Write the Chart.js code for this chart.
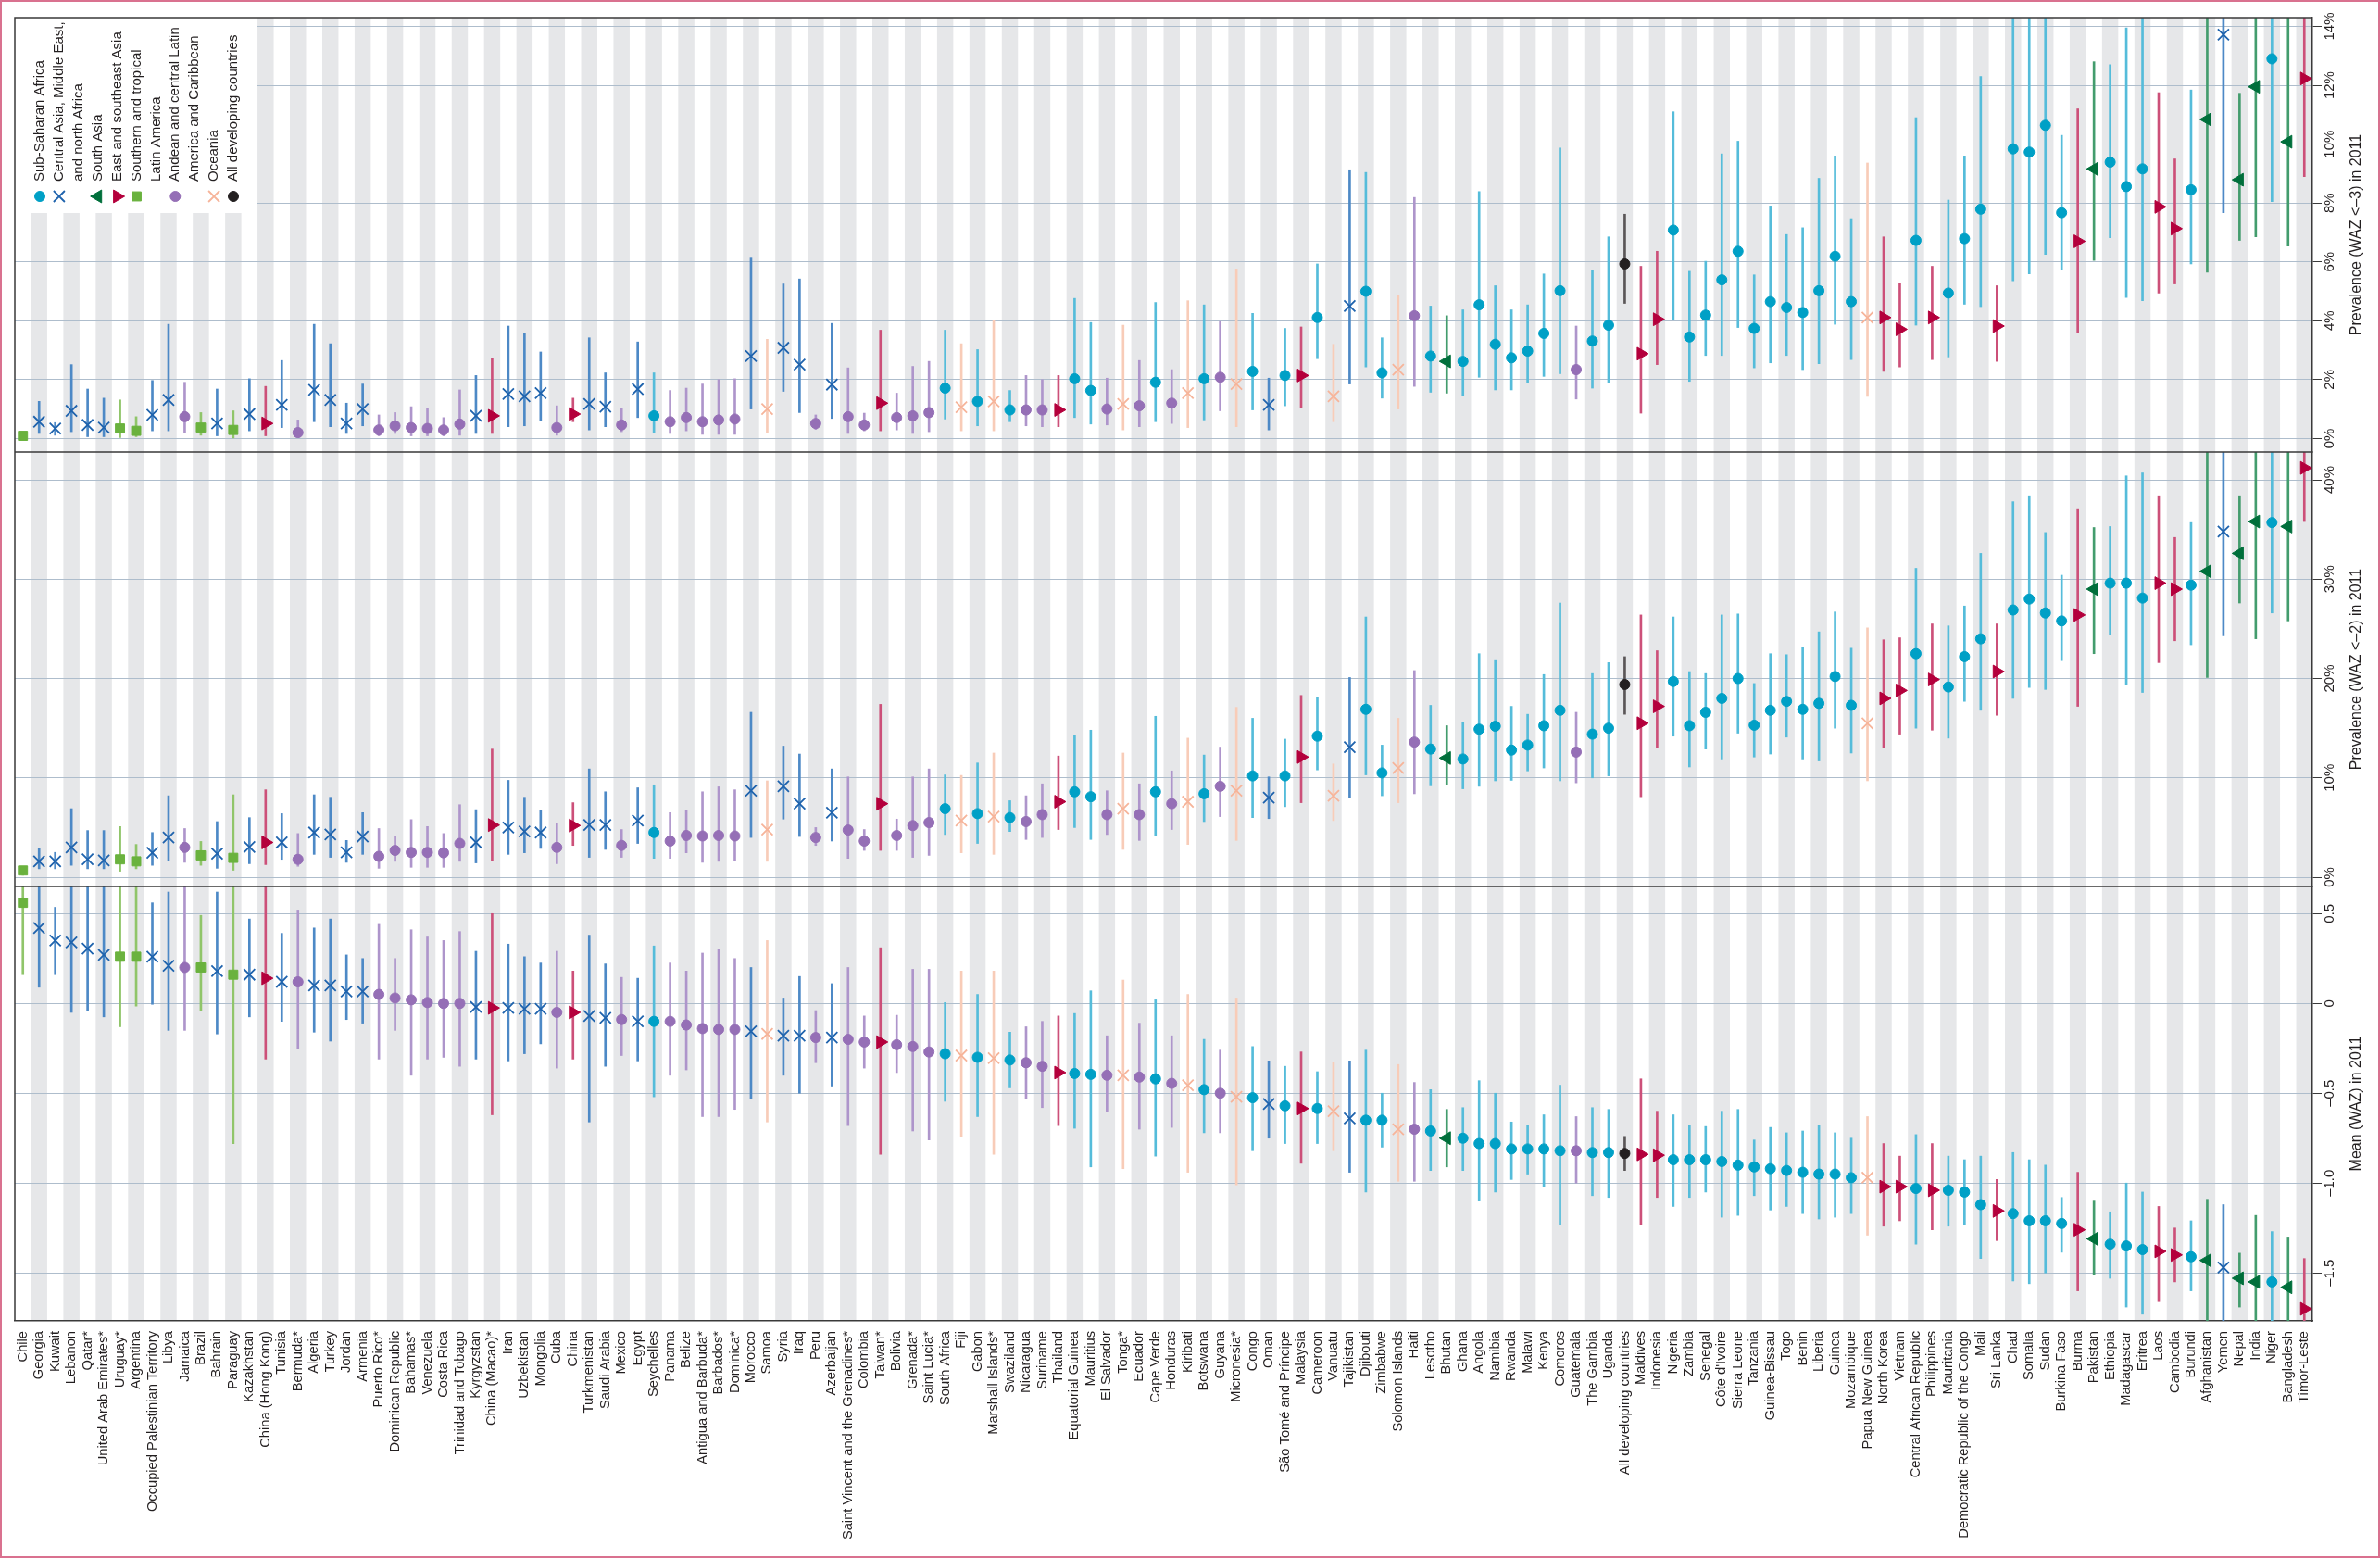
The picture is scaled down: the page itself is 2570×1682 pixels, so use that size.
<!DOCTYPE html>
<html>
<head>
<meta charset="utf-8">
<script src="https://cdn.jsdelivr.net/npm/chart.js@4.4.0/dist/chart.umd.min.js"></script>
<style>
  html, body { margin: 0; padding: 0; background: #fff; }
  #wrap { width: 2570px; height: 1682px; box-sizing: border-box; border: 2px solid #d9718f; background: #fff; }
  canvas { display: block; }
</style>
</head>
<body>
<div id="wrap"><canvas id="chart" width="2566" height="1678"></canvas></div>
<script>
const countries = ["Chile", "Georgia", "Kuwait", "Lebanon", "Qatar*", "United Arab Emirates*", "Uruguay*", "Argentina",
  "Occupied Palestinian Territory", "Libya", "Jamaica", "Brazil", "Bahrain", "Paraguay", "Kazakhstan", "China (Hong Kong)",
  "Tunisia", "Bermuda*", "Algeria", "Turkey", "Jordan", "Armenia", "Puerto Rico*", "Dominican Republic", "Bahamas*",
  "Venezuela", "Costa Rica", "Trinidad and Tobago", "Kyrgyzstan", "China (Macao)*", "Iran", "Uzbekistan", "Mongolia",
  "Cuba", "China", "Turkmenistan", "Saudi Arabia", "Mexico", "Egypt", "Seychelles", "Panama", "Belize",
  "Antigua and Barbuda*", "Barbados*", "Dominica*", "Morocco", "Samoa", "Syria", "Iraq", "Peru", "Azerbaijan",
  "Saint Vincent and the Grenadines*", "Colombia", "Taiwan*", "Bolivia", "Grenada*", "Saint Lucia*", "South Africa",
  "Fiji", "Gabon", "Marshall Islands*", "Swaziland", "Nicaragua", "Suriname", "Thailand", "Equatorial Guinea",
  "Mauritius", "El Salvador", "Tonga*", "Ecuador", "Cape Verde", "Honduras", "Kiribati", "Botswana", "Guyana",
  "Micronesia*", "Congo", "Oman", "São Tomé and Príncipe", "Malaysia", "Cameroon", "Vanuatu", "Tajikistan", "Djibouti",
  "Zimbabwe", "Solomon Islands", "Haiti", "Lesotho", "Bhutan", "Ghana", "Angola", "Namibia", "Rwanda", "Malawi", "Kenya",
  "Comoros", "Guatemala", "The Gambia", "Uganda", "All developing countries", "Maldives", "Indonesia", "Nigeria",
  "Zambia", "Senegal", "Côte d'Ivoire", "Sierra Leone", "Tanzania", "Guinea-Bissau", "Togo", "Benin", "Liberia",
  "Guinea", "Mozambique", "Papua New Guinea", "North Korea", "Vietnam", "Central African Republic", "Philippines",
  "Mauritania", "Democratic Republic of the Congo", "Mali", "Sri Lanka", "Chad", "Somalia", "Sudan", "Burkina Faso",
  "Burma", "Pakistan", "Ethiopia", "Madagascar", "Eritrea", "Laos", "Cambodia", "Burundi", "Afghanistan", "Yemen",
  "Nepal", "India", "Niger", "Bangladesh", "Timor-Leste"];

// 0 sub-Saharan Africa, 1 central Asia/Middle East/north Africa, 2 south Asia, 3 east and southeast Asia,
// 4 southern and tropical Latin America, 5 Andean/central Latin America and Caribbean, 6 Oceania, 7 all developing
const region = [4, 1, 1, 1, 1, 1, 4, 4, 1, 1, 5, 4, 1, 4, 1, 3, 1, 5, 1, 1, 1, 1, 5, 5, 5, 5, 5, 5, 1, 3,
  1, 1, 1, 5, 3, 1, 1, 5, 1, 0, 5, 5, 5, 5, 5, 1, 6, 1, 1, 5, 1, 5, 5, 3, 5, 5, 5, 0, 6, 0,
  6, 0, 5, 5, 3, 0, 0, 5, 6, 5, 0, 5, 6, 0, 5, 6, 0, 1, 0, 3, 0, 6, 1, 0, 0, 6, 5, 0, 2, 0,
  0, 0, 0, 0, 0, 0, 5, 0, 0, 7, 3, 3, 0, 0, 0, 0, 0, 0, 0, 0, 0, 0, 0, 0, 6, 3, 3, 0, 3, 0,
  0, 0, 3, 0, 0, 0, 0, 3, 2, 0, 0, 0, 3, 3, 0, 2, 1, 2, 2, 0, 2, 3];

// prevalence WAZ < -3 (%)
const severe = [0.09, 0.57, 0.34, 0.94, 0.46, 0.37, 0.34, 0.26, 0.8, 1.31, 0.74, 0.37, 0.51, 0.29, 0.83, 0.51,
  1.14, 0.2, 1.65, 1.31, 0.51, 1.0, 0.29, 0.43, 0.37, 0.34, 0.29, 0.49, 0.77, 0.77, 1.51, 1.43, 1.54, 0.37, 0.83,
  1.17, 1.08, 0.46, 1.68, 0.77, 0.57, 0.71, 0.57, 0.63, 0.66, 2.8, 1.0, 3.08, 2.51, 0.51, 1.83, 0.74, 0.46, 1.2,
  0.71, 0.77, 0.88, 1.71, 1.06, 1.26, 1.26, 0.97, 0.97, 0.97, 0.97, 2.03, 1.63, 1.0, 1.17, 1.11, 1.91, 1.2, 1.54,
  2.03, 2.08, 1.85, 2.28, 1.14, 2.14, 2.14, 4.11, 1.43, 4.5, 5.0, 2.23, 2.34, 4.17, 2.8, 2.62, 2.62, 4.54, 3.2,
  2.74, 2.97, 3.57, 5.02, 2.34, 3.31, 3.85, 5.93, 2.88, 4.05, 7.08, 3.45, 4.19, 5.39, 6.36, 3.74, 4.65, 4.45, 4.28,
  5.02, 6.19, 4.65, 4.11, 4.11, 3.71, 6.73, 4.11, 4.94, 6.79, 7.79, 3.82, 9.84, 9.73, 10.64, 7.67, 6.7, 9.16, 9.39,
  8.56, 9.16, 7.87, 7.13, 8.45, 10.84, 13.72, 8.79, 11.95, 12.9, 10.08, 12.23];
const severeLo = [0.0, 0.17, 0.11, 0.23, 0.06, 0.06, 0.03, 0.06, 0.26, 0.26, 0.2, 0.11, 0.09, 0.0, 0.26, 0.09,
  0.37, 0.03, 0.57, 0.4, 0.17, 0.43, 0.09, 0.17, 0.09, 0.09, 0.09, 0.11, 0.17, 0.17, 0.4, 0.43, 0.6, 0.11, 0.57,
  0.29, 0.4, 0.23, 0.71, 0.2, 0.17, 0.26, 0.14, 0.14, 0.14, 1.0, 0.2, 1.6, 0.88, 0.31, 0.68, 0.17, 0.26, 0.26,
  0.29, 0.17, 0.23, 0.66, 0.26, 0.43, 0.26, 0.57, 0.43, 0.4, 0.4, 0.71, 0.49, 0.46, 0.29, 0.4, 0.57, 0.51, 0.37,
  0.63, 0.94, 0.4, 0.97, 0.29, 1.11, 1.03, 2.71, 0.57, 1.85, 2.43, 1.37, 1.0, 1.77, 1.57, 1.54, 1.46, 2.08, 1.65,
  1.65, 1.91, 2.11, 2.2, 1.34, 1.71, 1.91, 4.59, 0.86, 2.51, 4.02, 1.94, 2.82, 2.82, 3.77, 2.4, 2.57, 2.82, 2.34,
  2.54, 3.88, 2.68, 1.43, 2.28, 2.43, 3.85, 2.68, 2.77, 4.56, 4.48, 2.62, 5.36, 5.59, 6.25, 5.73, 3.6, 6.05, 6.82,
  4.79, 4.68, 4.94, 5.25, 5.93, 5.65, 7.67, 6.73, 6.85, 8.05, 6.54, 8.9];
const severeHi = [0.2, 1.26, 0.54, 2.51, 1.68, 1.37, 1.31, 0.74, 1.97, 3.88, 1.91, 0.88, 1.68, 0.94, 2.03, 1.77,
  2.65, 0.63, 3.88, 3.22, 1.2, 1.85, 0.8, 0.88, 1.08, 1.03, 0.71, 1.65, 2.14, 2.71, 3.82, 3.57, 2.94, 1.11, 1.37,
  3.42, 2.23, 1.03, 3.28, 2.23, 1.63, 1.71, 1.85, 2.0, 2.03, 6.16, 3.37, 5.25, 5.42, 0.8, 3.91, 2.4, 0.86, 3.68,
  1.54, 2.45, 2.62, 3.68, 3.22, 3.02, 4.0, 1.63, 2.14, 2.0, 2.14, 4.76, 3.94, 2.05, 3.85, 2.65, 4.62, 2.34, 4.68,
  4.54, 3.97, 5.76, 4.25, 2.05, 3.74, 3.79, 5.93, 3.2, 9.13, 9.04, 3.42, 4.85, 8.19, 4.5, 4.17, 4.37, 8.39, 5.19,
  4.37, 4.54, 5.59, 9.87, 3.82, 5.7, 6.85, 7.62, 5.85, 6.36, 11.1, 5.68, 6.02, 9.67, 10.1, 5.56, 7.9, 6.93, 7.16,
  8.84, 9.6, 7.47, 9.36, 6.85, 5.28, 10.9, 5.85, 8.1, 9.6, 12.3, 5.19, 15.5, 15.5, 15.5, 10.3, 11.2, 12.8, 12.7,
  13.95, 15.5, 11.75, 9.5, 11.84, 16, 20, 11.73, 18, 19, 16, 17];

// prevalence WAZ < -2 (%)
const moderate = [0.68, 1.6, 1.6, 3.0, 1.8, 1.7, 1.8, 1.6, 2.46, 4.0, 3.0, 2.2, 2.37, 1.95, 3.05, 3.5, 3.5, 1.8,
  4.5, 4.3, 2.5, 4.1, 2.1, 2.7, 2.5, 2.5, 2.46, 3.4, 3.5, 5.25, 5.0, 4.6, 4.5, 3.0, 5.2, 5.25, 5.25, 3.2, 5.7, 4.5,
  3.64, 4.2, 4.15, 4.2, 4.15, 8.7, 4.8, 9.15, 7.4, 4.0, 6.5, 4.75, 3.64, 7.4, 4.2, 5.2, 5.5, 6.9, 5.7, 6.4, 6.1,
  6.0, 5.6, 6.3, 7.6, 8.6, 8.1, 6.3, 6.9, 6.3, 8.6, 7.4, 7.6, 8.4, 9.15, 8.7, 10.2, 8.0, 10.2, 12.1, 14.2, 8.2,
  13.1, 16.9, 10.5, 11.0, 13.6, 12.9, 12.0, 11.9, 14.9, 15.2, 12.8, 13.3, 15.25, 16.8, 12.6, 14.4, 15.0, 19.4,
  15.5, 17.2, 19.7, 15.25, 16.6, 18.0, 20.0, 15.3, 16.8, 17.7, 16.9, 17.5, 20.2, 17.3, 15.5, 18.0, 18.8, 22.5,
  19.9, 19.15, 22.2, 24.0, 20.7, 26.9, 28.0, 26.6, 25.8, 26.4, 29.0, 29.6, 29.6, 28.1, 29.6, 29.0, 29.4, 30.8,
  34.8, 32.6, 35.8, 35.7, 35.3, 41.2];
const moderateLo = [0.2, 0.85, 0.85, 1.2, 0.85, 0.85, 0.6, 0.85, 1.2, 1.7, 1.5, 1.2, 0.9, 0.7, 1.36, 1.27, 1.8,
  1.1, 2.3, 2.0, 1.5, 2.3, 0.9, 1.6, 1.0, 1.0, 1.0, 1.6, 1.44, 1.7, 2.3, 2.46, 2.9, 1.36, 3.2, 2.0, 2.8, 2.0, 3.4,
  1.9, 1.9, 2.46, 1.5, 1.6, 1.7, 4.0, 1.6, 5.85, 4.1, 3.2, 3.64, 1.9, 2.7, 2.7, 2.7, 2.0, 2.2, 4.3, 2.46, 3.4, 2.3,
  4.6, 3.8, 4.0, 4.8, 5.0, 3.8, 4.3, 2.8, 3.7, 4.15, 4.8, 3.3, 5.6, 6.1, 3.7, 6.0, 5.9, 7.1, 7.5, 10.8, 5.7, 8.0,
  10.3, 8.2, 7.5, 8.4, 9.2, 9.3, 8.9, 9.15, 9.7, 9.75, 10.7, 11.0, 9.7, 9.5, 10.0, 10.2, 16.4, 8.1, 13.0, 14.2,
  11.1, 12.9, 11.9, 14.5, 12.1, 12.4, 14.1, 11.9, 11.7, 15.0, 12.5, 9.7, 13.05, 14.4, 15.0, 14.8, 14.0, 17.7,
  16.8, 16.3, 18.0, 19.1, 18.9, 21.8, 17.2, 22.5, 24.4, 19.4, 18.6, 21.6, 23.8, 23.4, 20.1, 24.3, 27.6, 24.0,
  26.6, 25.8, 35.8];
const moderateHi = [1.0, 2.9, 2.5, 6.9, 4.7, 4.7, 5.1, 3.3, 4.5, 8.2, 4.9, 3.6, 5.6, 8.3, 6.0, 8.8, 6.4, 4.4, 8.3,
  8.05, 3.7, 6.5, 4.9, 4.15, 5.8, 5.1, 4.4, 7.3, 6.8, 12.9, 9.75, 8.05, 6.7, 5.4, 7.5, 10.9, 8.6, 4.8, 9.0, 9.3,
  6.5, 6.7, 8.6, 9.1, 8.8, 16.6, 9.7, 13.2, 12.4, 5.0, 10.9, 10.1, 4.8, 17.4, 5.85, 10.1, 10.9, 10.3, 10.25, 11.5,
  12.5, 7.7, 8.2, 9.4, 12.2, 14.3, 14.8, 8.7, 12.5, 9.4, 16.2, 10.7, 14.0, 12.3, 13.1, 17.1, 16.0, 10.1, 13.9,
  18.3, 18.1, 11.4, 20.1, 26.2, 13.3, 16.0, 20.8, 17.3, 15.25, 15.6, 22.5, 21.9, 17.2, 16.4, 20.4, 27.6, 16.6,
  20.5, 21.6, 22.2, 26.4, 22.8, 26.2, 20.7, 20.5, 26.4, 26.5, 19.5, 22.5, 22.4, 23.1, 24.7, 26.7, 23.05, 25.1,
  23.9, 24.1, 31.1, 25.5, 25.3, 27.3, 32.6, 25.5, 37.8, 38.4, 34.7, 30.4, 37.1, 35.2, 35.3, 40.4, 40.7, 38.4,
  34.2, 35.7, 44, 46, 38.4, 46, 45, 45, 47];

// mean WAZ
const mean = [0.56, 0.42, 0.35, 0.34, 0.305, 0.27, 0.26, 0.26, 0.26, 0.21, 0.2, 0.2, 0.18, 0.16, 0.16, 0.14, 0.12,
  0.12, 0.1, 0.1, 0.066, 0.066, 0.05, 0.03, 0.02, 0.005, 0.0, 0.0, -0.02, -0.025, -0.025, -0.03, -0.03, -0.05,
  -0.05, -0.07, -0.08, -0.09, -0.1, -0.1, -0.1, -0.12, -0.14, -0.145, -0.145, -0.155, -0.17, -0.18, -0.18, -0.19,
  -0.19, -0.2, -0.215, -0.215, -0.23, -0.24, -0.27, -0.28, -0.29, -0.3, -0.305, -0.315, -0.33, -0.35, -0.385,
  -0.39, -0.395, -0.4, -0.4, -0.41, -0.42, -0.445, -0.455, -0.48, -0.5, -0.52, -0.525, -0.56, -0.57, -0.585,
  -0.585, -0.6, -0.64, -0.65, -0.65, -0.7, -0.7, -0.71, -0.75, -0.75, -0.78, -0.78, -0.81, -0.81, -0.81, -0.82,
  -0.82, -0.83, -0.83, -0.835, -0.84, -0.845, -0.87, -0.87, -0.87, -0.88, -0.9, -0.91, -0.92, -0.93, -0.94, -0.95,
  -0.95, -0.97, -0.97, -1.02, -1.02, -1.03, -1.04, -1.04, -1.05, -1.12, -1.155, -1.17, -1.21, -1.21, -1.225, -1.26,
  -1.31, -1.34, -1.35, -1.37, -1.38, -1.4, -1.41, -1.43, -1.47, -1.53, -1.55, -1.55, -1.58, -1.7];
const meanLo = [0.16, 0.09, 0.16, -0.05, -0.04, -0.075, -0.13, -0.015, -0.005, -0.15, -0.15, -0.04, -0.17, -0.78,
  -0.075, -0.31, -0.1, -0.25, -0.16, -0.21, -0.09, -0.11, -0.31, -0.15, -0.4, -0.31, -0.3, -0.35, -0.31, -0.62,
  -0.32, -0.28, -0.225, -0.36, -0.31, -0.66, -0.35, -0.29, -0.32, -0.52, -0.4, -0.37, -0.63, -0.63, -0.59, -0.53,
  -0.66, -0.4, -0.5, -0.33, -0.46, -0.68, -0.36, -0.84, -0.385, -0.71, -0.76, -0.545, -0.74, -0.63, -0.84, -0.47,
  -0.53, -0.58, -0.68, -0.695, -0.91, -0.6, -0.92, -0.7, -0.85, -0.69, -0.94, -0.72, -0.72, -1.01, -0.82, -0.75,
  -0.78, -0.89, -0.78, -0.82, -0.94, -1.05, -0.8, -0.99, -0.99, -0.93, -0.91, -0.93, -1.1, -1.05, -0.98, -0.95,
  -1.02, -1.23, -1.0, -1.07, -1.08, -0.93, -1.23, -1.08, -1.13, -1.08, -1.05, -1.19, -1.18, -1.07, -1.15, -1.13,
  -1.17, -1.2, -1.19, -1.17, -1.29, -1.24, -1.21, -1.34, -1.26, -1.24, -1.23, -1.42, -1.32, -1.545, -1.56, -1.5,
  -1.385, -1.6, -1.51, -1.53, -1.69, -1.73, -1.66, -1.55, -1.6, -1.85, -1.85, -1.69, -1.85, -1.85, -1.85, -1.85];
const meanHi = [0.7, 0.7, 0.535, 0.7, 0.7, 0.7, 0.7, 0.7, 0.56, 0.62, 0.7, 0.49, 0.62, 0.7, 0.47, 0.7, 0.39, 0.52,
  0.42, 0.47, 0.27, 0.25, 0.44, 0.25, 0.41, 0.37, 0.35, 0.4, 0.29, 0.5, 0.33, 0.26, 0.225, 0.29, 0.18, 0.38, 0.22,
  0.145, 0.14, 0.32, 0.225, 0.18, 0.28, 0.3, 0.25, 0.2, 0.35, 0.03, 0.15, -0.04, 0.11, 0.2, -0.07, 0.31, -0.066,
  0.19, 0.19, 0.005, 0.18, 0.05, 0.18, -0.16, -0.13, -0.1, -0.07, -0.056, 0.07, -0.18, 0.13, -0.11, 0.02, -0.18,
  0.05, -0.2, -0.26, 0.03, -0.24, -0.32, -0.35, -0.27, -0.38, -0.33, -0.32, -0.26, -0.5, -0.34, -0.44, -0.48,
  -0.59, -0.58, -0.43, -0.5, -0.66, -0.68, -0.62, -0.455, -0.63, -0.58, -0.59, -0.74, -0.42, -0.6, -0.62, -0.68,
  -0.685, -0.6, -0.59, -0.76, -0.69, -0.72, -0.71, -0.68, -0.72, -0.75, -0.63, -0.78, -0.85, -0.73, -0.78, -0.85,
  -0.87, -0.85, -0.98, -0.83, -0.87, -0.9, -1.08, -0.94, -1.1, -1.16, -1.0, -1.05, -1.13, -1.25, -1.21, -1.09,
  -1.12, -1.39, -1.18, -1.27, -1.3, -1.42];

const severeTicks = [0, 2, 4, 6, 8, 10, 12, 14];
const moderateTicks = [0, 10, 20, 30, 40];
const meanTicks = [0.5, 0, -0.5, -1, -1.5];
const meanTickLabels = ["0.5", "0", "–0.5", "–1.0", "–1.5"];

const legendItems = [
  { r: 0, lines: ["Sub-Saharan Africa"] },
  { r: 1, lines: ["Central Asia, Middle East,", "and north Africa"] },
  { r: 2, lines: ["South Asia"] },
  { r: 3, lines: ["East and southeast Asia"] },
  { r: 4, lines: ["Southern and tropical", "Latin America"] },
  { r: 5, lines: ["Andean and central Latin", "America and Caribbean"] },
  { r: 6, lines: ["Oceania"] },
  { r: 7, lines: ["All developing countries"] }
];

// styles per region
const markerColor = ["#00a0c6", "#1f63ad", "#006f3b", "#b4003c", "#6ab23e", "#956fb6", "#f6b49a", "#231f20"];
const barColor = ["#55bcda", "#4d89c6", "#439c6d", "#cc5079", "#90c56a", "#ae95cb", "#f8ccb8", "#5a5657"];
const markerShape = ["circle", "crossRot", "triangle", "triangle", "rect", "circle", "crossRot", "circle"];
const markerRotation = [0, 0, -90, 90, 0, 0, 0, 0];
const markerRadius = [5.5, 8.5, 8, 8, 7, 5.5, 8.5, 5.5];
const markerBorder = [1, 1.8, 1, 1, 1, 1, 1.8, 1];

const FONT = '"Liberation Sans Narrow", "Liberation Sans", Arial, sans-serif';
const TEXT = "#231f20";
const FRAME = "#3a3a3a";

function errorBars(lo, hi, axis) {
  return {
    type: "bar",
    data: lo.map((v, i) => [v, hi[i]]),
    yAxisID: axis,
    barThickness: 2,
    grouped: false,
    borderWidth: 0,
    backgroundColor: region.map(r => barColor[r]),
    order: 2
  };
}

function markers(values, axis) {
  return {
    type: "line",
    data: values,
    yAxisID: axis,
    showLine: false,
    pointStyle: region.map(r => markerShape[r]),
    pointRotation: region.map(r => markerRotation[r]),
    pointRadius: region.map(r => markerRadius[r]),
    pointBorderWidth: region.map(r => markerBorder[r]),
    pointBackgroundColor: region.map(r => markerColor[r]),
    pointBorderColor: region.map(r => markerColor[r]),
    order: 1
  };
}

function yAxis(min, max, weight, tickValues, labelFn) {
  return {
    type: "linear",
    position: "right",
    stack: "panels",
    stackWeight: 1,
    weight: weight,
    min: min,
    max: max,
    afterBuildTicks: scale => { scale.ticks = tickValues.map(v => ({ value: v })); },
    afterFit: scale => { scale.width = 44; },
    grid: { color: "#aebdcc", lineWidth: 1, drawTicks: true, tickLength: 10, tickColor: FRAME },
    border: { display: true, color: FRAME, width: 1.5 },
    ticks: {
      callback: (v, i) => labelFn(v, i),
      minRotation: 90, maxRotation: 90,
      crossAlign: "center",
      padding: -6,
      color: TEXT,
      font: { family: FONT, size: 15 }
    }
  };
}

const titles = { y1: "Prevalence (WAZ <–3) in 2011", y2: "Prevalence (WAZ <–2) in 2011", y3: "Mean (WAZ) in 2011" };

const decor = {
  id: "decor",
  beforeDraw(chart) {
    const { ctx, chartArea: ca } = chart;
    const xs = chart.scales.x;
    ctx.save();
    ctx.fillStyle = "#fff";
    ctx.fillRect(0, 0, chart.width, chart.height);
    const w = xs.getPixelForValue(1) - xs.getPixelForValue(0);
    ctx.fillStyle = "#e6e7e9";
    countries.forEach((c, i) => {
      if (i % 2 === 1) {
        const x = xs.getPixelForValue(i);
        ctx.fillRect(x - w / 2, ca.top, w, ca.bottom - ca.top);
      }
    });
    ctx.restore();
  },
  beforeDatasetsDraw(chart) {
    const { ctx, chartArea: ca } = chart;
    ctx.save();
    ctx.fillStyle = "#fff";
    ctx.fillRect(ca.left, ca.top, 262, 211);
    let col = 0;
    ctx.font = "15px " + FONT;
    ctx.textAlign = "left";
    ctx.textBaseline = "middle";
    legendItems.forEach(item => {
      item.lines.forEach((line, k) => {
        const x = ca.left + 27 + col * 20.9;
        if (k === 0) {
          ctx.fillStyle = markerColor[item.r];
          ctx.strokeStyle = markerColor[item.r];
          ctx.lineWidth = markerBorder[item.r];
          Chart.helpers.drawPoint(ctx, {
            pointStyle: markerShape[item.r], rotation: markerRotation[item.r],
            radius: markerRadius[item.r], borderWidth: markerBorder[item.r]
          }, x, ca.top + 193);
        }
        ctx.fillStyle = TEXT;
        ctx.save();
        ctx.translate(x, ca.top + 177);
        ctx.rotate(-Math.PI / 2);
        ctx.fillText(line, 0, 0);
        ctx.restore();
        col++;
      });
    });
    ctx.restore();
  },
  beforeDatasetDraw(chart, args) {
    const ys = args.meta.yScale;
    const ca = chart.chartArea;
    chart.ctx.save();
    chart.ctx.beginPath();
    chart.ctx.rect(ca.left, ys.top, ca.right - ca.left, ys.bottom - ys.top);
    chart.ctx.clip();
  },
  afterDatasetDraw(chart) {
    chart.ctx.restore();
  },
  afterDraw(chart) {
    const { ctx, chartArea: ca } = chart;
    ctx.save();
    ctx.strokeStyle = FRAME;
    ctx.lineWidth = 1.5;
    ctx.beginPath();
    ctx.moveTo(ca.left, ca.bottom);
    ctx.lineTo(ca.left, ca.top);
    ctx.lineTo(ca.right, ca.top);
    ["y1", "y2"].forEach(id => {
      const b = chart.scales[id].bottom;
      ctx.moveTo(ca.left, b);
      ctx.lineTo(ca.right, b);
    });
    ctx.stroke();
    ctx.fillStyle = TEXT;
    ctx.font = "16px " + FONT;
    ctx.textAlign = "center";
    ctx.textBaseline = "middle";
    Object.keys(titles).forEach(id => {
      const s = chart.scales[id];
      ctx.save();
      ctx.translate(2543, (s.top + s.bottom) / 2);
      ctx.rotate(-Math.PI / 2);
      ctx.fillText(titles[id], 0, 0);
      ctx.restore();
    });
    ctx.restore();
  }
};

new Chart(document.getElementById("chart"), {
  type: "bar",
  data: {
    labels: countries,
    datasets: [
      markers(severe, "y1"), errorBars(severeLo, severeHi, "y1"),
      markers(moderate, "y2"), errorBars(moderateLo, moderateHi, "y2"),
      markers(mean, "y3"), errorBars(meanLo, meanHi, "y3")
    ]
  },
  options: {
    responsive: false,
    animation: false,
    devicePixelRatio: 1,
    events: [],
    layout: { padding: { left: 14, top: 17, right: 27, bottom: 14 } },
    plugins: { legend: { display: false }, tooltip: { enabled: false } },
    scales: {
      x: {
        type: "category",
        offset: true,
        afterFit: scale => { scale.height = 240; },
        grid: { display: false, drawTicks: false },
        border: { display: true, color: FRAME, width: 1.5 },
        ticks: {
          autoSkip: false, minRotation: 90, maxRotation: 90, padding: 11,
          color: TEXT, font: { family: FONT, size: 14.7 }
        }
      },
      y1: yAxis(-0.46, 14.3, 1, severeTicks, v => v + "%"),
      y2: yAxis(-0.93, 42.8, 2, moderateTicks, v => v + "%"),
      y3: yAxis(-1.767, 0.651, 3, meanTicks, (v, i) => meanTickLabels[i])
    }
  },
  plugins: [decor]
});
</script>
</body>
</html>
